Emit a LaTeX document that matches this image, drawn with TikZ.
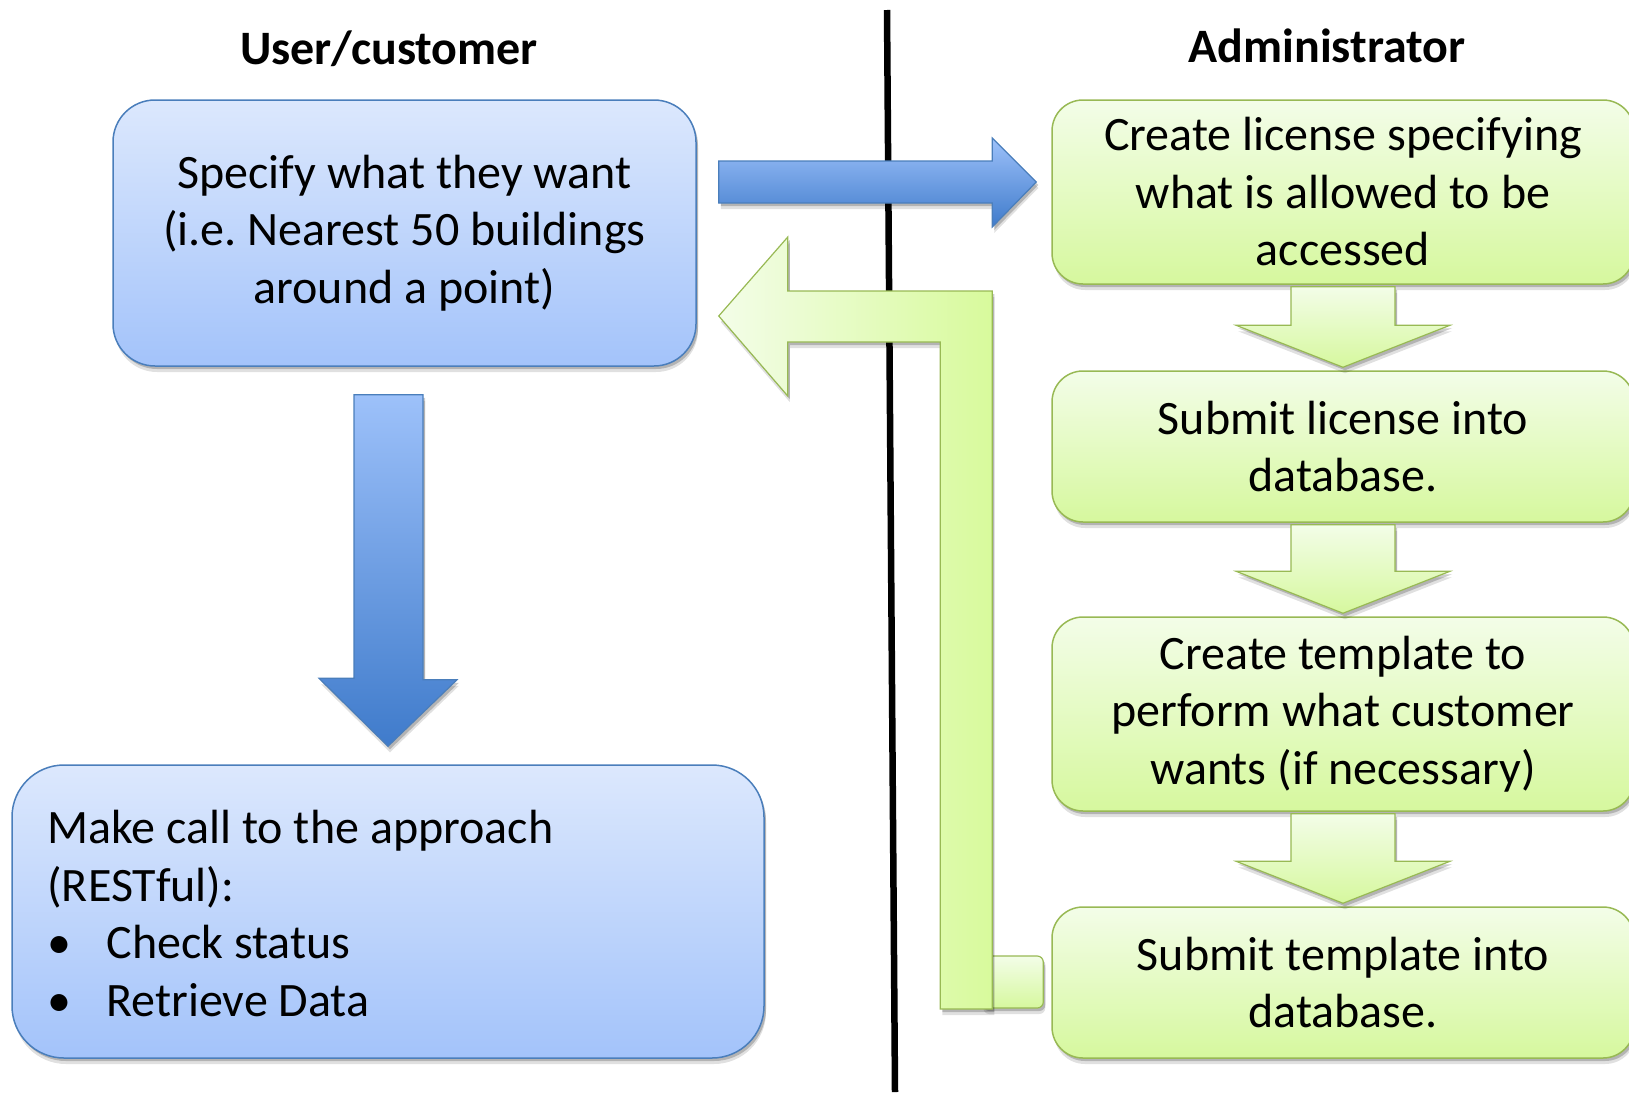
\documentclass[tikz,border=0pt]{standalone}
\usepackage{fontspec}
\setmainfont{Carlito}
\frenchspacing
\usetikzlibrary{shadows,calc}
\definecolor{btop}{HTML}{DCE8FD}
\definecolor{bbot}{HTML}{A3C3FA}
\definecolor{bline}{HTML}{4A7EBB}
\definecolor{atop}{HTML}{9DC1FA}
\definecolor{abot}{HTML}{3F7BCB}
\definecolor{gtop}{HTML}{F3FDE8}
\definecolor{gbot}{HTML}{D6F89E}
\definecolor{gline}{HTML}{98B954}
\definecolor{lleft}{HTML}{F3FDE8}
\definecolor{lright}{HTML}{D8FA9C}
\tikzset{
  softshadow/.style={drop shadow={shadow xshift=2pt,shadow yshift=-3pt,opacity=.2,fill=black},
                     drop shadow={shadow xshift=2pt,shadow yshift=-6pt,opacity=.12,fill=black}},
  bodytext/.style={font=\fontsize{48}{57.5}\selectfont},
  bluebox/.style={draw=bline,line width=1.5pt,top color=btop,bottom color=bbot,softshadow,bodytext,align=center,inner sep=0pt},
  greenbox/.style={draw=gline,line width=1.5pt,top color=gtop,bottom color=gbot,softshadow,bodytext,align=center,inner sep=0pt,
                   rounded corners=31pt,minimum width=582pt},
  bluearrow/.style={draw=bline,line width=1.2pt,top color=atop,bottom color=abot,softshadow},
  greenarrow/.style={draw=gline,line width=1.2pt,top color=gtop,bottom color=gbot,softshadow},
  heading/.style={font=\bfseries\fontsize{48}{56}\selectfont}
}
\newcommand\gdarrow[2]{%
  \path[greenarrow] ($(#1.south)+(-52,2)$) -- ($(#1.south)+(52,2)$) -- ($(#2.north)+(52,-45)$)
    -- ($(#2.north)+(107,-45)$) -- ($(#2.north)+(0,-3)$) -- ($(#2.north)+(-107,-45)$)
    -- ($(#2.north)+(-52,-45)$) -- cycle;}
\begin{document}
\begin{tikzpicture}[x=1pt,y=-1pt]
\useasboundingbox (0,0) rectangle (1629,1092);
% divider
\coordinate (ltop) at (887,10);
\coordinate (lbot) at (895,1092);
\draw[line width=6.5pt] (ltop) -- (lbot);
% headings
\node[heading] (h1) at (389,49) {User/customer};
\node[heading] (h2) at (1327,46) {Administrator};
% blue boxes
\node[bluebox,rounded corners=42pt,minimum width=583pt,minimum height=266pt] (b1) at (404.5,233)
  {Specify what they want\\(i.e. Nearest 50 buildings\\around a point)};
\node[bluebox,rounded corners=52pt,minimum width=752pt,minimum height=293pt] (b2) at (388,911.5) {};
\node[bodytext,align=left,anchor=west,inner sep=0pt] (b2t) at ($(b2.west)+(36,2)$)
  {Make call to the approach\\(RESTful):\\\makebox[59pt][l]{•}Check status\\\makebox[59pt][l]{•}Retrieve Data};
% green boxes
\node[greenbox,minimum height=184pt] (g1) at (1343,192) {Create license specifying\\what is allowed to be\\accessed};
\node[greenbox,minimum height=151pt] (g2) at (1343,446.5) {Submit license into\\database.};
\node[greenbox,minimum height=194pt] (g3) at (1343,714) {Create template to\\perform what customer\\wants (if necessary)};
\node[greenbox,minimum height=151pt] (g4) at (1343,982.5) {Submit template into\\database.};
% green down arrows
\gdarrow{g1}{g2}
\gdarrow{g2}{g3}
\gdarrow{g3}{g4}
% blue down arrow
\coordinate (bd0) at ($(b2.north |- b1.south)+(-34,28)$);
\path[bluearrow] (bd0) -- ++(69,0) -- ++(0,285) -- ++(34,0) -- ($(b2.north)+(0,-18)$) -- ++(-69,-68) -- ++(35,0) -- cycle;
% blue right arrow
\path[bluearrow] ($(b1.east)+(22,-72)$) -- ($(g1.west)+(-59,-31)$) -- ($(g1.west)+(-59,-54)$)
  -- ($(g1.west)+(-15,-10)$) -- ($(g1.west)+(-59,35)$) -- ($(g1.west)+(-59,11)$) -- ($(b1.east)+(22,-30)$) -- cycle;
% green return arrow: tab then L
\path[draw=gline,line width=1.2pt,top color=gtop,bottom color=gbot,rounded corners=6pt,softshadow]
  ($(g4.west)+(-70,-26.5)$) rectangle ($(g4.west)+(-8,25.5)$);
\path[draw=gline,line width=1.2pt,left color=lleft,right color=lright,softshadow]
  ($(b1.east)+(22,83)$) -- ($(b1.east)+(91,4)$) -- ($(b1.east)+(91,58)$) -- ($(g4.west)+(-59,-691.5)$)
  -- ($(g4.west)+(-59,26.5)$) -- ($(g4.west)+(-111,26.5)$) -- ($(g4.west)+(-111,-640.5)$)
  -- ($(b1.east)+(91,109)$) -- ($(b1.east)+(91,163)$) -- cycle;
\end{tikzpicture}
\end{document}
